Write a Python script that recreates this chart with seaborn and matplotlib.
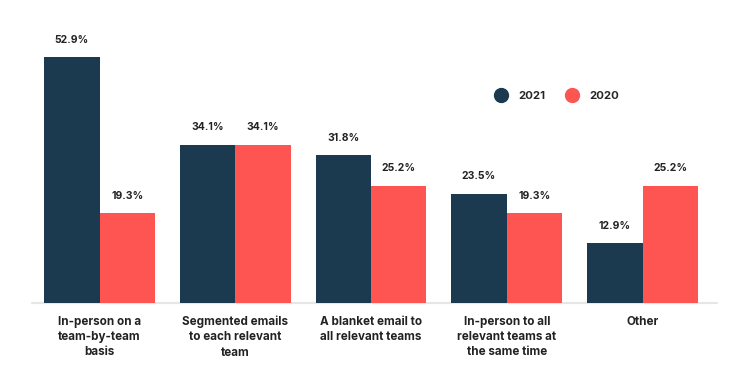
import matplotlib
matplotlib.use("Agg")
import matplotlib.pyplot as plt
from matplotlib.lines import Line2D
import pandas as pd
import seaborn as sns

categories = [
    "In-person on a\nteam-by-team\nbasis",
    "Segmented emails\nto each relevant\nteam",
    "A blanket email to\nall relevant teams",
    "In-person to all\nrelevant teams at\nthe same time",
    "Other",
]
years = ["2021", "2020"]
values_2021 = [52.9, 34.1, 31.8, 23.5, 12.9]
values_2020 = [19.3, 34.1, 25.2, 19.3, 25.2]

colors = {"2021": "#1b3a4f", "2020": "#ff5552"}

df = pd.DataFrame({
    "category": categories * 2,
    "year": ["2021"] * len(categories) + ["2020"] * len(categories),
    "value": values_2021 + values_2020,
})

sns.set_style("white")
plt.rcParams["font.family"] = ["Inter", "DejaVu Sans"]

fig = plt.figure(figsize=(7.53, 3.76), dpi=100)
ax = fig.add_axes([0.042, 0.194, 0.9015, 0.68])

sns.barplot(data=df, x="category", y="value", hue="year", hue_order=years,
            palette=colors, width=0.816, saturation=1, linewidth=0,
            ax=ax, legend=False)

for container in ax.containers:
    ax.bar_label(container, labels=[f"{v:.1f}%" for v in container.datavalues],
                 padding=9, fontsize=7.5, fontweight="bold", color="#222222")

ax.set_ylim(0, 55)
ax.set_xlim(-0.5, 4.5)
ax.set_xlabel("")
ax.set_ylabel("")
ax.set_yticks([])
for s in ax.spines.values():
    s.set_visible(False)
ax.axhline(0, color="#e6e6e6", lw=1.5, xmin=0, xmax=1.01, clip_on=False, zorder=0)
ax.tick_params(axis="x", length=0, pad=9)
for lbl in ax.get_xticklabels():
    lbl.set_fontsize(8.4)
    lbl.set_fontweight("bold")
    lbl.set_color("#222222")
    lbl.set_linespacing(1.38)
    lbl.set_verticalalignment("top")

handles = [Line2D([0], [0], marker="o", linestyle="", markersize=10,
                  markerfacecolor=colors[y], markeredgecolor=colors[y]) for y in years]
fig.legend(handles, years, loc="center left", bbox_to_anchor=(0.636, 0.745),
           ncol=2, frameon=False, handletextpad=0.6, columnspacing=1.25,
           prop={"weight": "bold", "size": 8.2})

fig.savefig("out.png", dpi=100, facecolor="white")
